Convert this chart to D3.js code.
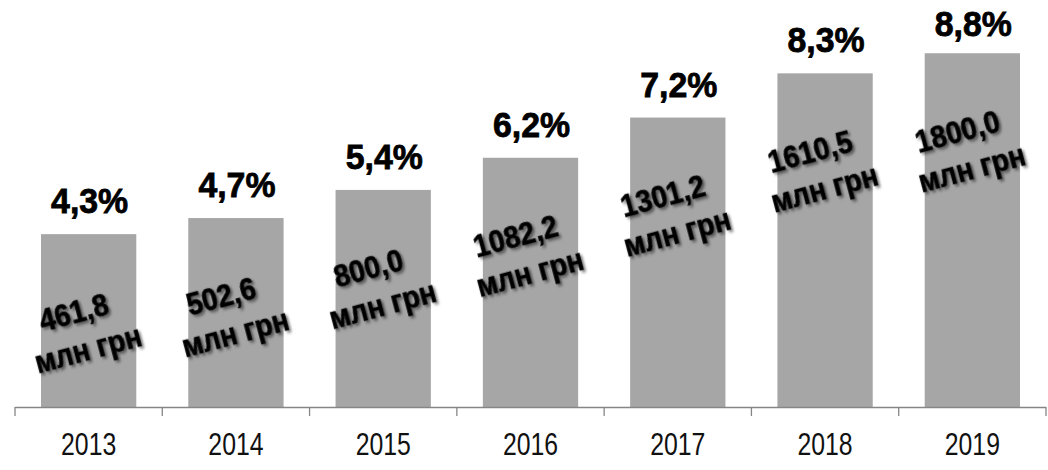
<!DOCTYPE html>
<html>
<head>
<meta charset="utf-8">
<script src="https://cdn.jsdelivr.net/npm/d3@7"></script>
<style>
  body { margin: 0; background: #fff; }
  svg { display: block; }
</style>
</head>
<body>
<div id="chart"></div>
<script>
// years on the x axis
const years = ["2013", "2014", "2015", "2016", "2017", "2018", "2019"];
// share, % (bar height)
const shares = [4.3, 4.7, 5.4, 6.2, 7.2, 8.3, 8.8];
// amount, mln UAH (label inside the bar)
const amounts = ["461,8", "502,6", "800,0", "1082,2", "1301,2", "1610,5", "1800,0"];

const width = 1048, height = 470;
const base = 407;

const svg = d3.select("#chart").append("svg")
    .attr("width", width)
    .attr("height", height);

const defs = svg.append("defs");
const f = defs.append("filter").attr("id", "shadow")
    .attr("x", "-20%").attr("y", "-40%").attr("width", "140%").attr("height", "180%");
f.append("feDropShadow")
    .attr("dx", 2).attr("dy", 2.5)
    .attr("stdDeviation", 1.5)
    .attr("flood-color", "#000")
    .attr("flood-opacity", 0.5);

const x = d3.scaleBand()
    .domain(years)
    .range([15, 1046])
    .paddingInner(0.353)
    .paddingOuter(0.1765);

const y = d3.scaleLinear()
    .domain([0, 10])
    .range([base, 5]);

const data = years.map((yr, i) => ({ year: yr, share: shares[i], amount: amounts[i] }));
const cx = d => x(d.year) + x.bandwidth() / 2;

// bars
svg.selectAll("rect.bar")
    .data(data)
    .enter()
    .append("rect")
    .attr("class", "bar")
    .attr("x", d => x(d.year))
    .attr("y", d => y(d.share))
    .attr("width", x.bandwidth())
    .attr("height", d => base - y(d.share))
    .attr("fill", "#a6a6a6");

// axis line + ticks between categories
svg.append("line")
    .attr("x1", 15).attr("x2", 1046)
    .attr("y1", base + 0.5).attr("y2", base + 0.5)
    .attr("stroke", "#868686")
    .attr("stroke-width", 1.3);

const tickX = d3.range(years.length + 1).map(i => 15 + i * x.step());
svg.selectAll("line.tick")
    .data(tickX)
    .enter()
    .append("line")
    .attr("class", "tick")
    .attr("x1", d => d).attr("x2", d => d)
    .attr("y1", base).attr("y2", base + 9)
    .attr("stroke", "#868686")
    .attr("stroke-width", 1.3);

// year labels (narrow face imitated with a horizontal squeeze)
svg.selectAll("text.year")
    .data(data)
    .enter()
    .append("text")
    .attr("class", "year")
    .attr("transform", d => `translate(${cx(d)},455) scale(0.8,1)`)
    .attr("text-anchor", "middle")
    .style("font-family", "'Liberation Sans', Arial, sans-serif")
    .style("font-size", "31px")
    .attr("fill", "#111")
    .text(d => d.year);

// percent labels above bars (kept inside the chart area at the top)
svg.selectAll("text.pct")
    .data(data)
    .enter()
    .append("text")
    .attr("class", "pct")
    .attr("transform", d => `translate(${cx(d) + 1},${Math.max(y(d.share) - 21, 36)}) scale(0.94,1)`)
    .attr("text-anchor", "middle")
    .style("font-family", "'Liberation Sans', Arial, sans-serif")
    .style("font-weight", "bold")
    .style("font-size", "36px")
    .attr("fill", "#000")
    .attr("stroke", "#000")
    .attr("stroke-width", 0.8)
    .text(d => d.share.toFixed(1).replace(".", ",") + "%");

// rotated amount labels inside the bars
const lab = svg.selectAll("g.amt")
    .data(data)
    .enter()
    .append("g")
    .attr("class", "amt")
    .attr("transform", d => `translate(${cx(d) - 3},${y(d.share) + 106}) rotate(-15) scale(0.88,1)`)
    .attr("filter", "url(#shadow)")
    .style("font-family", "'Liberation Sans', Arial, sans-serif")
    .style("font-weight", "bold")
    .style("font-size", "32px")
    .attr("fill", "#000")
    .attr("stroke", "#000")
    .attr("stroke-width", 0.6)
    .attr("text-anchor", "middle");

lab.append("text")
    .attr("x", -5)
    .attr("y", -19)
    .text(d => d.amount);

lab.append("text")
    .attr("y", 20)
    .text("млн грн");
</script>
</body>
</html>
